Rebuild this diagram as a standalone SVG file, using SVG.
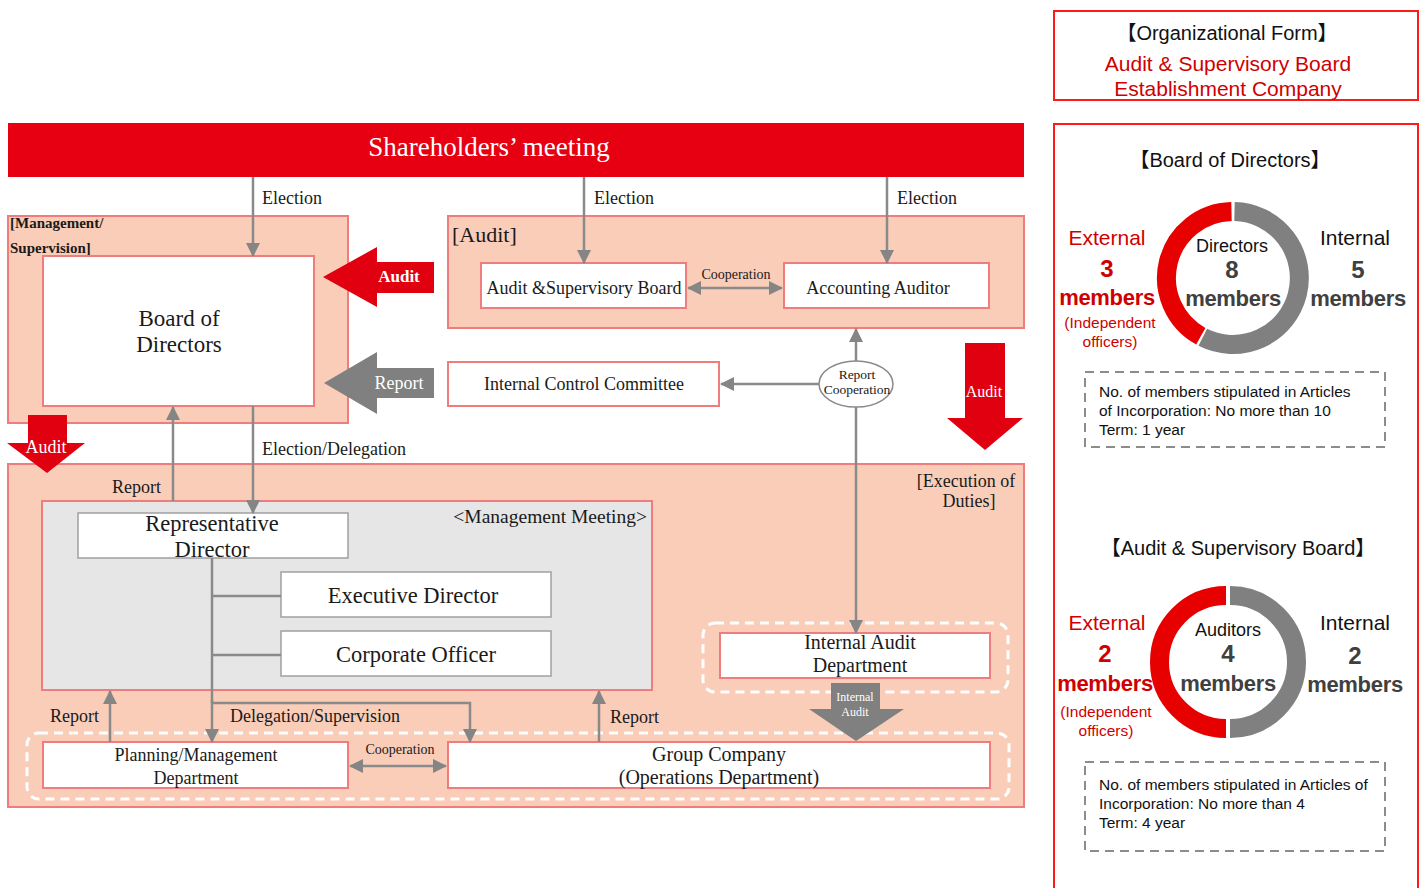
<svg xmlns="http://www.w3.org/2000/svg" width="1424" height="888" viewBox="0 0 1424 888">
<defs>
<marker id="ah" viewBox="0 0 14 14" refX="13" refY="7" markerWidth="14" markerHeight="14" markerUnits="userSpaceOnUse" orient="auto-start-reverse">
<path d="M0,0 L14,7 L0,14 z" fill="#858585"/>
</marker>
<style>
.serif{font-family:"Liberation Serif","Times New Roman",serif;fill:#1a1a1a}
.sans{font-family:"Liberation Sans",Arial,"Noto Sans CJK JP",sans-serif}
.zone{fill:#f9cdb8;stroke:#f07c7c;stroke-width:2}
.box{fill:#ffffff;stroke:#f07c7c;stroke-width:2}
.gbox{fill:#ffffff;stroke:#a0a0a0;stroke-width:1.5}
.ln{stroke:#8a8a8a;stroke-width:2.5;fill:none}
.arr{stroke:#8a8a8a;stroke-width:2.5;fill:none;marker-end:url(#ah)}
.darr{stroke:#8a8a8a;stroke-width:2.5;fill:none;marker-end:url(#ah);marker-start:url(#ah)}
.dash{fill:none;stroke:#ffffff;stroke-width:3;stroke-dasharray:9 6}
.gdash{fill:#ffffff;stroke:#8c8c8c;stroke-width:2;stroke-dasharray:9 6}
.red{fill:#e00010}
.gray{fill:#808080}
.rt{fill:#d00000}
.dt{fill:#404040}
.panel{fill:#ffffff;stroke:#ff1a1a;stroke-width:2}
.c{text-anchor:middle}
</style>
</defs>
<rect width="1424" height="888" fill="#ffffff"/>

<!-- Zones -->
<g id="zone-execution">
<rect class="zone" x="8" y="464" width="1016" height="343"/>
<text class="serif" x="966" y="487" font-size="18" text-anchor="middle">[Execution of</text>
<text class="serif" x="969" y="507" font-size="18" text-anchor="middle">Duties]</text>
</g>
<g id="zone-management">
<rect class="zone" x="8" y="216" width="340" height="207"/>
<text class="serif" x="10" y="228" font-size="15" font-weight="bold">[Management/</text>
<text class="serif" x="10" y="253" font-size="15" font-weight="bold">Supervision]</text>
</g>
<g id="zone-audit">
<rect class="zone" x="448" y="216" width="576" height="112"/>
<text class="serif" x="452" y="242" font-size="22">[Audit]</text>
</g>

<g id="shareholders">
<rect x="8" y="123" width="1016" height="54" fill="#e60012"/>
<text x="489" y="156" font-size="27" text-anchor="middle" fill="#ffffff" style="font-family:'Liberation Serif','Times New Roman',serif">Shareholders’ meeting</text>
</g>

<g id="board-of-directors">
<rect class="box" x="43" y="256" width="271" height="150"/>
<text class="serif c" x="179" y="326" font-size="23">Board of</text>
<text class="serif c" x="179" y="352" font-size="23">Directors</text>
</g>

<g id="audit-supervisory-board">
<rect class="box" x="481" y="263" width="205" height="45"/>
<text class="serif c" x="584" y="294" font-size="18">Audit &amp;Supervisory Board</text>
</g>
<g id="accounting-auditor">
<rect class="box" x="784" y="263" width="205" height="45"/>
<text class="serif c" x="878" y="294" font-size="18">Accounting Auditor</text>
</g>
<g id="internal-control-committee">
<rect class="box" x="448" y="362" width="271" height="44"/>
<text class="serif c" x="584" y="390" font-size="18">Internal Control Committee</text>
</g>

<g id="management-meeting">
<rect x="42" y="501" width="610" height="189" fill="#e6e6e6" stroke="#f07c7c" stroke-width="2"/>
<text class="serif" x="647" y="523" font-size="19.5" text-anchor="end">&lt;Management Meeting&gt;</text>
</g>
<g id="representative-director">
<rect class="gbox" x="78" y="513" width="270" height="45"/>
<text class="serif c" x="212" y="531" font-size="22.5">Representative</text>
<text class="serif c" x="212" y="557" font-size="22.5">Director</text>
</g>
<g id="executive-director">
<rect class="gbox" x="281" y="572" width="270" height="45"/>
<text class="serif c" x="413" y="603" font-size="22.5">Executive Director</text>
</g>
<g id="corporate-officer">
<rect class="gbox" x="281" y="631" width="270" height="45"/>
<text class="serif c" x="416" y="662" font-size="22.5">Corporate Officer</text>
</g>

<g id="internal-audit-department">
<rect class="dash" x="703" y="623" width="305" height="69" rx="12"/>
<rect class="box" x="720" y="633" width="270" height="45"/>
<text class="serif c" x="860" y="649" font-size="20">Internal Audit</text>
<text class="serif c" x="860" y="672" font-size="20">Department</text>
</g>

<g id="operations-group">
<rect class="dash" x="27" y="733" width="982" height="66" rx="12"/>
</g>
<g id="planning-management-department">
<rect class="box" x="43" y="742" width="305" height="46"/>
<text class="serif c" x="196" y="761" font-size="18">Planning/Management</text>
<text class="serif c" x="196" y="784" font-size="18">Department</text>
</g>
<g id="group-company">
<rect class="box" x="448" y="742" width="542" height="46"/>
<text class="serif c" x="719" y="761" font-size="20">Group Company</text>
<text class="serif c" x="719" y="784" font-size="20">(Operations Department)</text>
</g>

<g id="report-cooperation">
<ellipse cx="856" cy="384" rx="37" ry="23" fill="#ffffff" stroke="#8a8a8a" stroke-width="1.5"/>
<text class="serif c" x="857" y="379" font-size="13.5">Report</text>
<text class="serif c" x="857" y="394" font-size="13.5">Cooperation</text>
</g>

<!-- Connectors -->
<g id="connectors">
<line class="arr" x1="253" y1="177" x2="253" y2="256"/>
<line class="arr" x1="584" y1="177" x2="584" y2="263"/>
<line class="arr" x1="887" y1="177" x2="887" y2="263"/>
<line class="darr" x1="688" y1="288" x2="782" y2="288"/>
<line class="arr" x1="819" y1="384" x2="721" y2="384"/>
<line class="arr" x1="856" y1="361" x2="856" y2="329"/>
<line class="arr" x1="856" y1="407" x2="856" y2="633"/>
<line class="arr" x1="253" y1="406" x2="253" y2="513"/>
<line class="arr" x1="173" y1="501" x2="173" y2="407"/>
<line class="ln" x1="212" y1="558" x2="212" y2="703"/>
<line class="ln" x1="212" y1="596" x2="281" y2="596"/>
<line class="ln" x1="212" y1="655" x2="281" y2="655"/>
<line class="arr" x1="212" y1="700" x2="212" y2="742"/>
<polyline class="arr" points="212,703 470,703 470,742"/>
<line class="arr" x1="110" y1="742" x2="110" y2="691"/>
<line class="arr" x1="599" y1="742" x2="599" y2="691"/>
<line class="darr" x1="350" y1="766" x2="446" y2="766"/>

<path class="red" d="M434,262 L377,262 L377,247 L323,277 L377,307 L377,293 L434,293 Z"/>
<path class="gray" d="M434,368 L377,368 L377,352 L324,383 L377,414 L377,398 L434,398 Z"/>
<path class="red" d="M28,415 L67,415 L67,443 L85,443 L47,473 L7,443 L28,443 Z"/>
<path class="red" d="M965,343 L1005,343 L1005,418 L1023,418 L985,450 L947,418 L965,418 Z"/>
<path class="gray" d="M831,683 L880,683 L880,709 L904,709 L856,741 L809,709 L831,709 Z"/>

<text class="serif" x="262" y="204" font-size="18">Election</text>
<text class="serif" x="594" y="204" font-size="18">Election</text>
<text class="serif" x="897" y="204" font-size="18">Election</text>
<text class="serif c" x="736" y="279" font-size="14">Cooperation</text>
<text class="serif" x="262" y="455" font-size="18">Election/Delegation</text>
<text class="serif" x="112" y="493" font-size="18">Report</text>
<text class="serif" x="230" y="722" font-size="18">Delegation/Supervision</text>
<text class="serif" x="50" y="722" font-size="18">Report</text>
<text class="serif" x="610" y="723" font-size="18">Report</text>
<text class="serif c" x="400" y="754" font-size="14">Cooperation</text>
<text x="399" y="282" font-size="17" font-weight="bold" fill="#ffffff" text-anchor="middle" style="font-family:'Liberation Serif',serif">Audit</text>
<text x="399" y="389" font-size="18" fill="#ffffff" text-anchor="middle" style="font-family:'Liberation Serif',serif">Report</text>
<text x="46" y="453" font-size="18" fill="#ffffff" text-anchor="middle" style="font-family:'Liberation Serif',serif">Audit</text>
<text x="984" y="397" font-size="16" fill="#ffffff" text-anchor="middle" style="font-family:'Liberation Serif',serif">Audit</text>
<text x="855" y="701" font-size="12" fill="#ffffff" text-anchor="middle" style="font-family:'Liberation Serif',serif">Internal</text>
<text x="855" y="716" font-size="12" fill="#ffffff" text-anchor="middle" style="font-family:'Liberation Serif',serif">Audit</text>
</g>

<!-- Right panel -->
<g id="organizational-form">
<rect class="panel" x="1054" y="11" width="364" height="89"/>
<text class="sans c" x="1227" y="40" font-size="20" fill="#111111">【Organizational Form】</text>
<text class="sans c rt" x="1228" y="71" font-size="21">Audit &amp; Supervisory Board</text>
<text class="sans c rt" x="1228" y="96" font-size="21">Establishment Company</text>
</g>

<g id="composition-panel">
<rect class="panel" x="1054" y="124" width="364" height="780"/>
</g>

<g id="board-composition">
<text class="sans c" x="1230" y="167" font-size="20" fill="#111111">【Board of Directors】</text>
<path d="M1231.5,211.5 A66.5,66.5 0 0 0 1200.8,336.2" fill="none" stroke="#e60000" stroke-width="19"/>
<path d="M1234.5,211.5 A66.5,66.5 0 1 1 1202.8,337.3" fill="none" stroke="#808080" stroke-width="19"/>
<text class="sans c rt" x="1107" y="245" font-size="21">External</text>
<text class="sans c rt" x="1107" y="277" font-size="24" font-weight="bold">3</text>
<text class="sans c rt" x="1107" y="305" font-size="22" font-weight="bold" letter-spacing="-0.3">members</text>
<text class="sans c rt" x="1110" y="328" font-size="15.5">(Independent</text>
<text class="sans c rt" x="1110" y="347" font-size="15.5">officers)</text>
<text class="sans c" x="1232" y="252" font-size="18" fill="#111111">Directors</text>
<text class="sans c dt" x="1232" y="278" font-size="24" font-weight="bold">8</text>
<text class="sans c dt" x="1233" y="306" font-size="22" font-weight="bold" letter-spacing="-0.3">members</text>
<text class="sans c" x="1355" y="245" font-size="21" fill="#111111">Internal</text>
<text class="sans c dt" x="1358" y="278" font-size="24" font-weight="bold">5</text>
<text class="sans c dt" x="1358" y="306" font-size="22" font-weight="bold" letter-spacing="-0.3">members</text>
<rect class="gdash" x="1085" y="372" width="300" height="75"/>
<text class="sans" x="1099" y="397" font-size="15.5" fill="#111111">No. of members stipulated in Articles</text>
<text class="sans" x="1099" y="416" font-size="15.5" fill="#111111">of Incorporation: No more than 10</text>
<text class="sans" x="1099" y="435" font-size="15.5" fill="#111111">Term: 1 year</text>
</g>

<g id="audit-board-composition">
<text class="sans c" x="1238" y="555" font-size="20" fill="#111111">【Audit &amp; Supervisory Board】</text>
<path d="M1226,595.5 A66.5,66.5 0 0 0 1226,728.5" fill="none" stroke="#e60000" stroke-width="19"/>
<path d="M1230,595.5 A66.5,66.5 0 0 1 1230,728.5" fill="none" stroke="#808080" stroke-width="19"/>
<text class="sans c rt" x="1107" y="630" font-size="21">External</text>
<text class="sans c rt" x="1105" y="662" font-size="24" font-weight="bold">2</text>
<text class="sans c rt" x="1105" y="691" font-size="22" font-weight="bold" letter-spacing="-0.3">members</text>
<text class="sans c rt" x="1106" y="717" font-size="15.5">(Independent</text>
<text class="sans c rt" x="1106" y="736" font-size="15.5">officers)</text>
<text class="sans c" x="1228" y="636" font-size="18" fill="#111111">Auditors</text>
<text class="sans c dt" x="1228" y="662" font-size="24" font-weight="bold">4</text>
<text class="sans c dt" x="1228" y="691" font-size="22" font-weight="bold" letter-spacing="-0.3">members</text>
<text class="sans c" x="1355" y="630" font-size="21" fill="#111111">Internal</text>
<text class="sans c dt" x="1355" y="664" font-size="24" font-weight="bold">2</text>
<text class="sans c dt" x="1355" y="692" font-size="22" font-weight="bold" letter-spacing="-0.3">members</text>
<rect class="gdash" x="1085" y="762" width="300" height="89"/>
<text class="sans" x="1099" y="790" font-size="15.5" fill="#111111">No. of members stipulated in Articles of</text>
<text class="sans" x="1099" y="809" font-size="15.5" fill="#111111">Incorporation: No more than 4</text>
<text class="sans" x="1099" y="828" font-size="15.5" fill="#111111">Term: 4 year</text>
</g>
</svg>
